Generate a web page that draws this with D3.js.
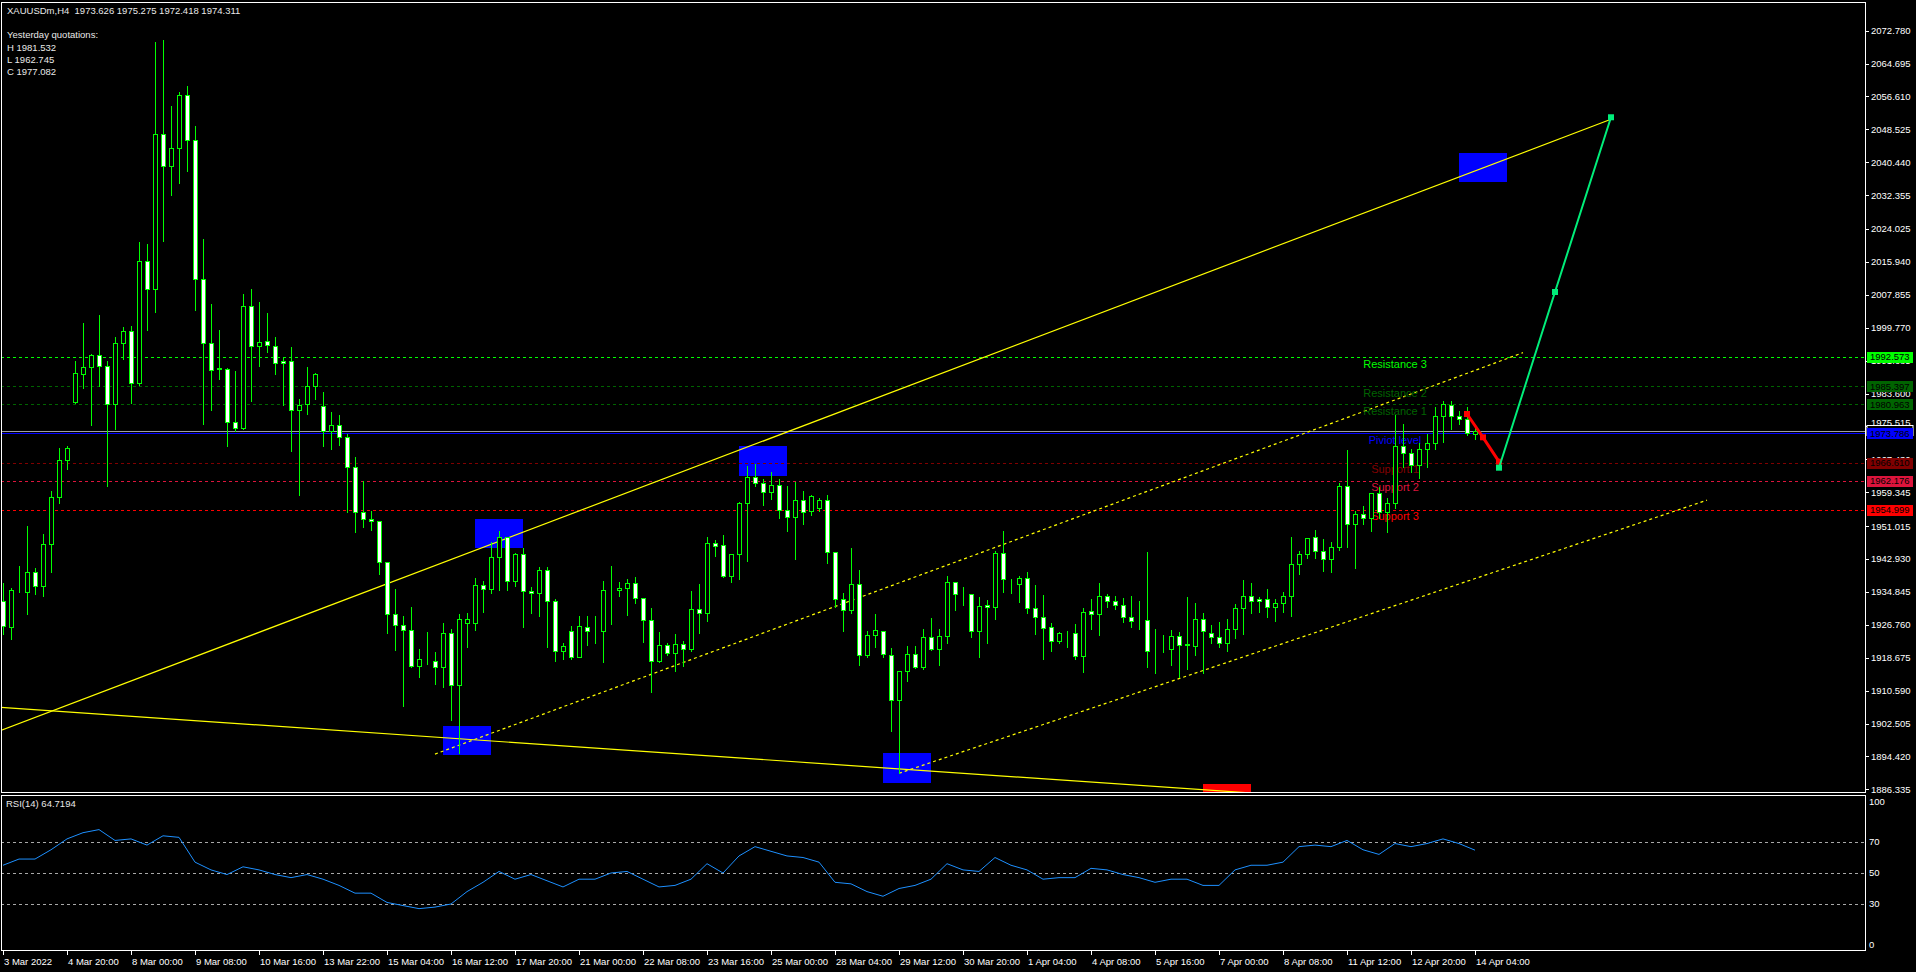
<!DOCTYPE html>
<html><head><meta charset="utf-8">
<script src="https://cdn.jsdelivr.net/npm/d3@7"></script>
<style>html,body{margin:0;padding:0;background:#000;overflow:hidden}</style>
</head><body>
<svg id="c" width="1916" height="972"></svg>
<script>
// ---------------- DATA ----------------
const open=[1932.52,1926.30,1935.02,1934.92,1939.64,1936.23,1946.56,1958.09,1967.22,1981.47,
1988.49,1990.09,1993.00,1990.29,1981.06,1995.91,1998.92,1986.08,2016.07,2009.25,
2047.27,2039.45,2043.86,2056.90,2045.87,2011.76,1995.91,1989.89,1989.70,1976.55,
1975.25,2005.24,1995.21,1996.41,1995.41,1991.60,1991.70,1979.66,1980.96,1985.58,
1980.46,1974.34,1975.85,1972.84,1965.52,1954.58,1952.70,1952.21,1942.29,1929.35,
1926.65,1925.42,1916.73,1918.13,1917.96,1916.32,1924.68,1911.90,1927.14,1927.14,
1936.48,1935.66,1943.36,1948.27,1937.46,1944.18,1935.17,1934.51,1940.16,1932.54,
1920.26,1925.17,1918.95,1926.32,1925.34,1925.34,1935.25,1935.25,1935.74,1936.97,
1933.45,1927.96,1917.96,1921.73,1919.77,1921.98,1920.75,1930.58,1929.60,1946.80,
1946.31,1938.85,1944.10,1956.63,1963.02,1961.55,1959.33,1961.05,1954.99,1953.19,
1957.37,1954.75,1955.56,1957.37,1944.59,1933.12,1930.33,1936.72,1919.27,1924.19,
1925.17,1919.27,1908.21,1915.34,1919.52,1916.49,1923.70,1920.91,1923.94,1937.21,
1934.27,1934.27,1925.17,1931.56,1931.07,1944.34,1936.72,1936.72,1938.20,1930.83,
1928.61,1926.15,1922.71,1924.68,1924.68,1919.03,1930.09,1929.35,1933.77,1932.54,
1931.55,1928.60,1927.79,1927.87,1920.58,1920.74,1920.74,1924.02,1921.97,1921.56,
1928.11,1924.84,1923.85,1922.38,1925.66,1930.82,1933.77,1933.03,1933.03,1931.06,
1932.05,1933.77,1941.63,1944.09,1948.43,1944.91,1942.86,1945.81,1960.88,1951.46,
1953.92,1952.93,1959.08,1954.41,1956.62,1970.63,1968.91,1966.04,1969.89,1971.37,
1978.00,1980.87,1978.17,1977.27,1973.626];
const high=[1937.03,1935.72,1941.34,1950.97,1940.74,1948.97,1959.60,1970.13,1970.83,1991.50,
2000.93,1993.20,2002.93,1991.50,1997.52,1999.92,2000.22,2020.89,2020.29,2069.94,
2070.44,2054.29,2057.70,2059.21,2049.38,2021.59,2005.64,1999.22,1989.89,1989.19,
2008.05,2009.25,2006.14,2003.43,1997.52,1992.60,1995.01,1982.17,1990.09,1988.69,
1983.97,1979.16,1978.36,1973.64,1968.02,1962.11,1954.75,1952.21,1942.29,1935.49,
1928.86,1931.07,1920.75,1925.01,1920.09,1927.22,1925.66,1929.35,1929.60,1938.28,
1937.46,1947.04,1949.75,1948.44,1944.50,1945.57,1935.99,1940.90,1940.90,1933.12,
1922.22,1926.48,1928.94,1928.94,1928.94,1937.54,1941.23,1937.30,1937.95,1938.53,
1933.45,1930.91,1925.01,1922.22,1924.52,1922.80,1935.08,1936.80,1948.27,1947.62,
1948.85,1944.10,1957.04,1965.80,1966.30,1962.53,1964.33,1962.53,1960.89,1961.87,
1959.66,1958.68,1958.02,1958.68,1944.75,1934.59,1945.57,1940.25,1925.25,1929.43,
1925.17,1920.99,1915.34,1921.57,1921.57,1925.75,1928.45,1925.75,1938.77,1937.21,
1936.07,1934.27,1933.53,1932.79,1945.00,1949.83,1937.95,1938.77,1939.67,1936.56,
1934.10,1927.14,1925.01,1925.34,1926.97,1930.83,1933.04,1937.05,1934.35,1933.85,
1933.36,1933.85,1932.62,1944.74,1925.74,1924.26,1925.49,1924.92,1933.68,1932.05,
1929.59,1926.72,1927.38,1928.11,1931.80,1937.78,1936.96,1933.68,1935.49,1933.03,
1934.83,1948.27,1944.91,1948.02,1950.07,1947.77,1947.12,1961.54,1969.73,1954.74,
1955.97,1959.08,1960.55,1957.85,1978.33,1976.12,1969.97,1971.37,1973.66,1980.21,
1981.85,1981.77,1979.31,1980.21,1975.275];
const low=[1924.49,1923.19,1934.72,1929.51,1934.22,1933.82,1939.84,1956.79,1965.12,1981.17,
1984.88,1975.85,1985.48,1960.80,1974.85,1992.20,1981.17,1985.68,1999.22,2003.53,
2021.19,2032.52,2035.23,2038.24,2004.04,1976.05,1979.66,1987.08,1970.63,1974.44,
1974.85,1981.67,1990.49,1993.90,1988.29,1980.86,1969.43,1958.60,1978.46,1982.17,
1970.83,1969.93,1971.03,1954.48,1949.57,1950.77,1950.08,1939.26,1924.85,1920.58,
1906.82,1916.47,1914.03,1917.14,1912.23,1911.57,1903.38,1895.19,1921.40,1925.58,
1930.01,1934.67,1935.33,1935.33,1936.31,1926.32,1929.76,1929.02,1921.40,1917.96,
1918.29,1918.29,1918.78,1921.81,1922.39,1917.72,1927.06,1933.86,1929.19,1932.22,
1922.63,1910.34,1917.72,1919.36,1915.51,1916.73,1920.42,1924.85,1927.79,1943.69,
1938.53,1937.38,1937.95,1942.54,1960.89,1956.30,1957.78,1953.11,1949.91,1943.03,
1951.63,1953.84,1954.83,1942.05,1931.23,1925.34,1929.60,1916.98,1918.95,1921.40,
1918.78,1900.76,1890.27,1912.88,1916.24,1916.00,1920.58,1916.98,1922.39,1930.50,
1931.64,1923.86,1918.95,1922.39,1928.12,1934.92,1934.59,1932.46,1929.60,1924.44,
1918.45,1920.34,1922.22,1921.40,1918.29,1915.26,1925.66,1924.19,1931.07,1930.73,
1927.54,1926.31,1925.66,1916.50,1915.00,1920.17,1917.00,1914.00,1916.00,1919.35,
1915.00,1922.38,1921.40,1920.41,1923.44,1924.51,1929.59,1930.00,1928.77,1927.79,
1930.00,1929.01,1939.17,1943.27,1943.27,1940.07,1939.83,1945.15,1945.81,1940.81,
1951.54,1949.90,1952.93,1949.66,1955.39,1965.63,1964.40,1962.77,1965.47,1969.97,
1971.78,1974.81,1976.12,1973.41,1972.418];
const close=[1926.50,1935.22,1935.10,1939.64,1936.23,1946.56,1958.09,1967.22,1970.33,1988.59,
1990.09,1993.00,1990.29,1981.06,1995.91,1998.92,1986.08,2016.07,2009.25,2047.27,
2039.45,2043.86,2056.90,2045.87,2011.76,1995.91,1989.49,1989.70,1976.55,1975.25,
2005.24,1995.21,1996.21,1995.51,1991.10,1991.10,1979.66,1980.76,1985.58,1988.29,
1974.34,1975.85,1972.84,1965.52,1954.58,1952.78,1952.21,1942.29,1929.35,1926.65,
1925.42,1916.73,1918.29,1918.20,1916.32,1924.68,1911.90,1928.12,1928.12,1936.48,
1935.66,1943.36,1948.27,1937.46,1944.18,1935.17,1934.51,1940.16,1932.54,1920.26,
1921.57,1918.95,1926.48,1925.17,1925.20,1935.25,1935.30,1935.74,1936.97,1933.45,
1927.96,1917.96,1921.73,1919.77,1921.98,1920.75,1930.58,1929.60,1946.80,1946.23,
1938.85,1944.10,1956.63,1963.02,1961.55,1959.33,1961.05,1954.99,1953.19,1957.37,
1954.42,1958.35,1957.37,1944.59,1933.12,1930.33,1936.72,1919.27,1924.19,1925.42,
1919.52,1908.21,1915.34,1919.52,1916.49,1923.70,1920.91,1923.94,1937.21,1934.27,
1934.30,1925.17,1931.32,1931.07,1944.34,1937.95,1936.80,1938.20,1930.83,1928.61,
1925.91,1922.71,1924.68,1924.75,1919.03,1929.84,1929.35,1933.77,1932.55,1931.55,
1928.60,1927.62,1927.70,1920.41,1920.50,1920.80,1924.02,1921.89,1921.90,1928.11,
1925.16,1923.85,1922.38,1925.66,1930.82,1933.77,1932.54,1932.54,1931.06,1932.05,
1933.77,1941.63,1944.09,1948.02,1944.91,1943.02,1945.81,1960.88,1951.46,1954.00,
1952.93,1959.08,1954.41,1956.62,1970.63,1968.91,1966.04,1969.89,1971.37,1978.00,
1980.95,1978.17,1977.27,1973.82,1974.311];

const timeLabels=["3 Mar 2022","4 Mar 20:00","8 Mar 00:00","9 Mar 08:00","10 Mar 16:00","13 Mar 22:00","15 Mar 04:00","16 Mar 12:00","17 Mar 20:00","21 Mar 00:00","22 Mar 08:00","23 Mar 16:00","25 Mar 00:00","28 Mar 04:00","29 Mar 12:00","30 Mar 20:00","1 Apr 04:00","4 Apr 08:00","5 Apr 16:00","7 Apr 00:00","8 Apr 08:00","11 Apr 12:00","12 Apr 20:00","14 Apr 04:00"];
const timeLabelBars=[0,8,16,24,32,40,48,56,64,72,80,88,96,104,112,120,128,136,144,152,160,168,176,184];
const priceTicks=[2072.780,2064.695,2056.610,2048.525,2040.440,2032.355,2024.025,2015.940,2007.855,1999.770,1991.685,1983.600,1975.515,1967.430,1959.345,1951.015,1942.930,1934.845,1926.760,1918.675,1910.590,1902.505,1894.420,1886.335];

const levelNames=["Resistance 3","Resistance 2","Resistance 1","Piviot level","Support 1","Support 2","Support 3"];
const levelValues=[1992.573,1985.397,1980.963,1973.786,1966.610,1962.176,1954.999];
const bidPrice=1974.311;

const trendBars=[[-1,201],[-1,160],[54,190],[112,213]];
const trendPrices=[[1900.29,2051.0],[1906.58,1884.9],[1895.0,1993.65],[1890.28,1957.4]];

const boxBars=[[59,65],[55,61],[92,98],[110,116],[182,188],[150,156]];
const boxPrices=[[1952.78,1945.72],[1901.90,1894.78],[1970.72,1963.42],[1895.26,1887.96],[2042.72,2035.59],[1887.53,1880.40]];

const greenPathBars=[187,194,201];
const greenPathPrices=[1965.38,2008.56,2051.5];
const redPathBars=[183,185,187];
const redPathPrices=[1978.58,1972.85,1966.86];

const rsiBars=[0,2,4,6,8,10,12,14,16,18,20,22,24,26,28,30,32,34,36,38,40,42,44,46,48,50,52,54,56,58,60,62,64,66,68,70,72,74,76,78,80,82,84,86,88,90,92,94,96,98,100,102,104,106,108,110,112,114,116,118,120,122,124,126,128,130,132,134,136,138,140,142,144,146,148,150,152,154,156,158,160,162,164,166,168,170,172,174,176,178,180,182,184];
const rsiValues=[55,59,59,65,72,76,78,71,72,68,74,73,57,52,49,54,52,49,47,49,46,42,37,37,31,29,27,28,30,38,44,51,46,49,45,41,46,46,50,51,46,41,42,46,56,50,61,67,64,61,60,57,44,43,38,35,40,42,46,56,52,51,60,55,52,46,47,47,53,52,49,47,44,46,46,42,42,52,55,55,57,67,68,67,71,65,62,69,67,69,72,69,64.72];
const rsiLevels=[70,50,30];
const rsiTicks=[100,70,50,30,0];

const headerLine="XAUUSDm,H4  1973.626 1975.275 1972.418 1974.311";
const yesterdayLines=["Yesterday quotations:","H 1981.532","L 1962.745","C 1977.082"];
const rsiTitle="RSI(14) 64.7194";

// ---------------- STYLE / LAYOUT ----------------
const S={
  font:"'Liberation Sans', Arial, sans-serif",
  fs:9.5,
  levelColors:["#00ff00","#006400","#006400","#0000ff","#800000","#dc143c","#ff0000"],
  levelDash:["3,3","3,3","3,3",null,"3,3","3,3","3,3"],
  boxColors:["#0000ff","#0000ff","#0000ff","#0000ff","#0000ff","#ff0000"],
  trendDash:[null,null,"3,3","3,3"],
  candle:"#00ff00", bull:"#000000", bear:"#ffffff",
  green:"#00ee7a", red:"#ff0000", rsi:"#1e90ff", text:"#ffffff"
};
const W=1916,H=972;
const P={left:1,right:1865,top:2,bottom:792};
const R={top:795,bottom:951};
const labelBar=174;

const svg=d3.select("#c");
svg.append("rect").attr("width",W).attr("height",H).attr("fill","#000");

const x=d3.scaleLinear().domain([0,184]).range([3,1475]);
const y=d3.scaleLinear().domain([1885.68,2079.83]).range([P.bottom,P.top]);
const yr=d3.scaleLinear().domain([0,100]).range([950.5,795.5]);

const defs=svg.append("defs");
defs.append("clipPath").attr("id","cm").append("rect").attr("x",P.left).attr("y",P.top).attr("width",P.right-P.left).attr("height",P.bottom-P.top);
defs.append("clipPath").attr("id","cr").append("rect").attr("x",P.left).attr("y",R.top).attr("width",P.right-P.left).attr("height",R.bottom-R.top);

const main=svg.append("g").attr("clip-path","url(#cm)");

// rectangles
main.selectAll("rect.box").data(boxBars).join("rect").attr("class","box")
  .attr("x",d=>Math.round(x(d[0])))
  .attr("width",d=>Math.round(x(d[1]))-Math.round(x(d[0])))
  .attr("y",(d,i)=>Math.round(y(boxPrices[i][0])))
  .attr("height",(d,i)=>Math.round(y(boxPrices[i][1]))-Math.round(y(boxPrices[i][0])))
  .attr("fill",(d,i)=>S.boxColors[i]);

// level lines
main.selectAll("line.lvl").data(levelValues).join("line").attr("class","lvl")
  .attr("x1",P.left).attr("x2",P.right)
  .attr("y1",d=>Math.round(y(d))+0.5).attr("y2",d=>Math.round(y(d))+0.5)
  .attr("stroke",(d,i)=>S.levelColors[i]).attr("stroke-width",1)
  .attr("stroke-dasharray",(d,i)=>S.levelDash[i]);
main.append("line").attr("x1",P.left).attr("x2",P.right)
  .attr("y1",Math.round(y(bidPrice))+0.5).attr("y2",Math.round(y(bidPrice))+0.5)
  .attr("stroke","#a0a0a0");

// trend lines
main.selectAll("line.tr").data(trendBars).join("line").attr("class","tr")
  .attr("x1",d=>x(d[0])).attr("x2",d=>x(d[1]))
  .attr("y1",(d,i)=>y(trendPrices[i][0])).attr("y2",(d,i)=>y(trendPrices[i][1]))
  .attr("stroke","#ffff00").attr("stroke-width",1.2)
  .attr("stroke-dasharray",(d,i)=>S.trendDash[i]);

// level text labels
main.selectAll("text.lt").data(levelNames).join("text").attr("class","lt")
  .attr("x",x(labelBar)).attr("y",(d,i)=>y(levelValues[i])+10.5)
  .attr("text-anchor","middle").attr("font-family",S.font).attr("font-size",11)
  .attr("fill",(d,i)=>S.levelColors[i]).text(d=>d);

// candles
const bars=open.map((o,i)=>({i,o,h:high[i],l:low[i],c:close[i]}));
const cg=main.append("g");
cg.selectAll("line.w").data(bars).join("line").attr("class","w")
  .attr("x1",d=>Math.round(x(d.i))+0.5).attr("x2",d=>Math.round(x(d.i))+0.5)
  .attr("y1",d=>Math.round(y(d.h))).attr("y2",d=>Math.round(y(d.l))+1)
  .attr("stroke",S.candle);
cg.selectAll("rect.b").data(bars).join("rect").attr("class","b")
  .attr("x",d=>Math.round(x(d.i))-1.5).attr("width",4)
  .attr("y",d=>Math.round(y(Math.max(d.o,d.c)))+0.5)
  .attr("height",d=>Math.max(0,Math.round(y(Math.min(d.o,d.c)))-Math.round(y(Math.max(d.o,d.c)))))
  .attr("fill",d=>d.c<d.o?S.bear:S.bull).attr("stroke",S.candle);

// arrows
function path(bs,ps,color,w){
  const pts=bs.map((b,i)=>[x(b),y(ps[i])]);
  main.append("path").attr("d",d3.line()(pts)).attr("fill","none").attr("stroke",color).attr("stroke-width",w);
  main.selectAll(null).data(pts).join("rect").attr("x",d=>d[0]-3).attr("y",d=>d[1]-3).attr("width",6).attr("height",6).attr("fill",color);
}
path(redPathBars,redPathPrices,S.red,3);
path(greenPathBars,greenPathPrices,S.green,2);

// RSI
const rg=svg.append("g").attr("clip-path","url(#cr)");
rg.selectAll("line.rl").data(rsiLevels).join("line").attr("class","rl")
  .attr("x1",P.left).attr("x2",P.right)
  .attr("y1",d=>Math.round(yr(d))+0.5).attr("y2",d=>Math.round(yr(d))+0.5)
  .attr("stroke","#a8a8a8").attr("stroke-dasharray","3,3");
rg.append("path").attr("d",d3.line().x((d,i)=>x(rsiBars[i])).y(d=>yr(d))(rsiValues))
  .attr("fill","none").attr("stroke",S.rsi).attr("stroke-width",1);

// frames
const fr=svg.append("g").attr("fill","none").attr("stroke","#fff").attr("stroke-width",1);
fr.append("rect").attr("x",P.left+0.5).attr("y",P.top+0.5).attr("width",P.right-P.left).attr("height",P.bottom-P.top);
fr.append("rect").attr("x",P.left+0.5).attr("y",R.top+0.5).attr("width",P.right-P.left).attr("height",R.bottom-R.top-1);

// price axis
const ax=svg.append("g").attr("font-family",S.font).attr("font-size",S.fs).attr("fill",S.text);
ax.selectAll("line.pt").data(priceTicks).join("line").attr("class","pt")
  .attr("x1",P.right+0.5).attr("x2",P.right+4).attr("y1",d=>Math.round(y(d))+0.5).attr("y2",d=>Math.round(y(d))+0.5)
  .attr("stroke","#fff");
// tick label just above the pivot box is nudged up so it only touches the box
const nudge=v=>{const d=y(v)-y(levelValues[3]);return (d<0&&d>-9)?-4:0;};
ax.selectAll("text.pl").data(priceTicks).join("text").attr("class","pl")
  .attr("x",1871).attr("y",d=>y(d)+3.4+nudge(d)).text(d=>d.toFixed(3));
// current bid marker (white edge, mostly hidden under the pivot box)
ax.append("rect").attr("x",1867).attr("y",Math.round(y(bidPrice))-5.5).attr("width",46).attr("height",10).attr("fill","#000").attr("stroke","#fff").attr("stroke-width",1);
// colored level boxes on axis
levelValues.forEach((v,i)=>{
  ax.append("rect").attr("x",1867).attr("y",Math.round(y(v))-5).attr("width",46).attr("height",11).attr("fill",S.levelColors[i]);
  ax.append("text").attr("x",1870).attr("y",y(v)+3.4).attr("fill","#000").text(v.toFixed(3));
});
// RSI axis
ax.selectAll("text.rt").data(rsiTicks).join("text").attr("class","rt")
  .attr("x",1869).attr("y",d=>(d===100?yr(d)+6:d===0?yr(d)-6:yr(d))+3.4).text(d=>d);

// time axis
ax.selectAll("line.tt").data(timeLabelBars).join("line").attr("class","tt")
  .attr("x1",d=>Math.round(x(d))+0.5).attr("x2",d=>Math.round(x(d))+0.5).attr("y1",R.bottom).attr("y2",R.bottom+4).attr("stroke","#fff");
ax.selectAll("text.tl").data(timeLabels).join("text").attr("class","tl")
  .attr("x",(d,i)=>Math.round(x(timeLabelBars[i]))+1).attr("y",964.5).text(d=>d);

// header texts
const ht=svg.append("g").attr("font-family",S.font).attr("font-size",S.fs).attr("fill","#e8e8e8");
ht.append("text").attr("x",7).attr("y",14).style("white-space","pre").text(headerLine);
ht.selectAll("text.y").data(yesterdayLines).join("text").attr("class","y")
  .attr("x",7).attr("y",(d,i)=>[38.3,50.7,63,74.5][i]).text(d=>d);
ht.append("text").attr("x",6).attr("y",806.5).text(rsiTitle);
</script>
</body></html>
